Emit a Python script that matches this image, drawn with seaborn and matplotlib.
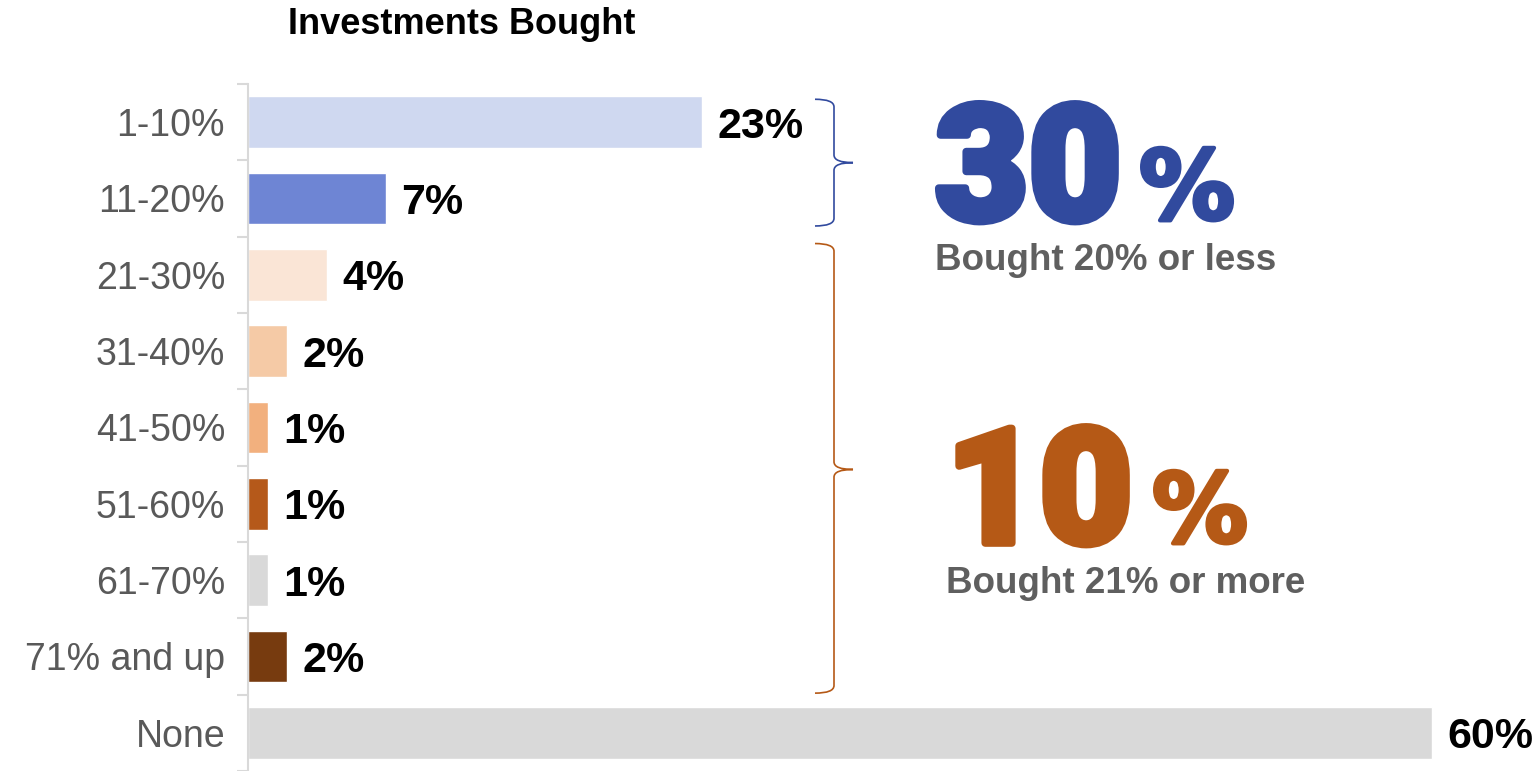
import numpy as np
import matplotlib
matplotlib.use("Agg")
import matplotlib.pyplot as plt
from matplotlib.path import Path
from matplotlib.patches import PathPatch
import matplotlib.patheffects as pe
import seaborn as sns

# ---- data ----
categories = ["1-10%", "11-20%", "21-30%", "31-40%", "41-50%",
              "51-60%", "61-70%", "71% and up", "None"]
values = [23, 7, 4, 2, 1, 1, 1, 2, 60]
value_labels = [f"{v}%" for v in values]
title = "Investments Bought"
group_low_value = "30"
group_low_text = "Bought 20% or less"
group_high_value = "10"
group_high_text = "Bought 21% or more"

# ---- style ----
bar_colors = ["#cfd8f0", "#6e85d4", "#fae5d6", "#f5caa6", "#f2b07e",
              "#b5591a", "#d9d9d9", "#773b0f", "#d9d9d9"]
BLUE = "#314a9e"
ORANGE = "#b55916"
GRAY_TXT = "#5f5f5f"
LABEL_TXT = "#595959"
AXIS_GRAY = "#d9d9d9"

sns.set_style("white")
plt.rcParams["font.family"] = ["Liberation Sans", "DejaVu Sans"]

W, H = 1537, 771
fig = plt.figure(figsize=(W / 100, H / 100), dpi=100)
ax = fig.add_axes([248 / W, 0.0, 1 - 248 / W, 1 - 84 / H])

sns.barplot(x=values, y=categories, hue=categories, palette=bar_colors,
            legend=False, width=0.68, orient="h", saturation=1, ax=ax)

ax.set_xlim(0, (W - 248) / 19.73)
ax.set_ylim(len(categories) - 0.5, -0.5)

for cont, lab in zip(ax.containers, value_labels):
    texts = ax.bar_label(cont, labels=[lab], padding=11, fontsize=31,
                         fontweight="bold", color="black")
    for t in texts:
        t.set_va("center_baseline")

# axes styling
for s in ["top", "right", "bottom"]:
    ax.spines[s].set_visible(False)
ax.spines["left"].set_color(AXIS_GRAY)
ax.spines["left"].set_linewidth(1.5)
ax.set_xticks([])
ax.set_xlabel("")
ax.set_ylabel("")
ax.set_yticks(np.arange(-0.5, len(categories), 1), minor=True)
ax.tick_params(axis="y", which="major", length=0, pad=16.5,
               labelsize=27, labelcolor=LABEL_TXT)
ax.tick_params(axis="y", which="minor", length=8, width=1.5, color=AXIS_GRAY,
               left=True)

# title
fig.text(288 / W, 1 - 25 / H, title, fontsize=26, fontweight="bold",
         color="black", ha="left", va="center")


# braces
def brace(ax, y0, y1, ym, color):
    xpx = lambda p: (p - 248) / 19.73
    x0, xv, xt = xpx(815), xpx(834), xpx(853)
    r = 0.1
    verts = [
        (x0, y0), (xv, y0), (xv, y0 + r),
        (xv, ym - r),
        (xv, ym), (xt, ym),
        (xv, ym), (xv, ym + r),
        (xv, y1 - r),
        (xv, y1), (x0, y1),
    ]
    codes = [Path.MOVETO, Path.CURVE3, Path.CURVE3,
             Path.LINETO,
             Path.CURVE3, Path.CURVE3,
             Path.CURVE3, Path.CURVE3,
             Path.LINETO,
             Path.CURVE3, Path.CURVE3]
    ax.add_patch(PathPatch(Path(verts, codes), fill=False, edgecolor=color,
                           linewidth=1.2, clip_on=False))


brace(ax, -0.30, 1.36, 0.53, BLUE)
brace(ax, 1.59, 7.48, 4.55, ORANGE)

num_font = ["Roboto", "DejaVu Sans"]
pct_font = ["DejaVu Sans"]


def heavy(color, lw):
    return [pe.withStroke(linewidth=lw, foreground=color)]


# big numbers
fig.text(935 / W, 1 - 220 / H, group_low_value, fontsize=116, family=num_font,
         fontweight="black", color=BLUE, ha="left", va="baseline",
         path_effects=heavy(BLUE, 5.5))
fig.text(1139 / W, 1 - 219 / H, "%", fontsize=69, family=pct_font,
         fontweight="bold", color=BLUE, ha="left", va="baseline",
         path_effects=heavy(BLUE, 3))
fig.text(935 / W, 1 - 270 / H, group_low_text, fontsize=26.5,
         fontweight="bold", color=GRAY_TXT, ha="left", va="baseline")

fig.text(946 / W, 1 - 543 / H, group_high_value, fontsize=116, family=num_font,
         fontweight="black", color=ORANGE, ha="left", va="baseline",
         path_effects=heavy(ORANGE, 5.5))
fig.text(1152 / W, 1 - 542 / H, "%", fontsize=69, family=pct_font,
         fontweight="bold", color=ORANGE, ha="left", va="baseline",
         path_effects=heavy(ORANGE, 3))
fig.text(946 / W, 1 - 593 / H, group_high_text, fontsize=26.5,
         fontweight="bold", color=GRAY_TXT, ha="left", va="baseline")

fig.savefig("out.png", dpi=100)
